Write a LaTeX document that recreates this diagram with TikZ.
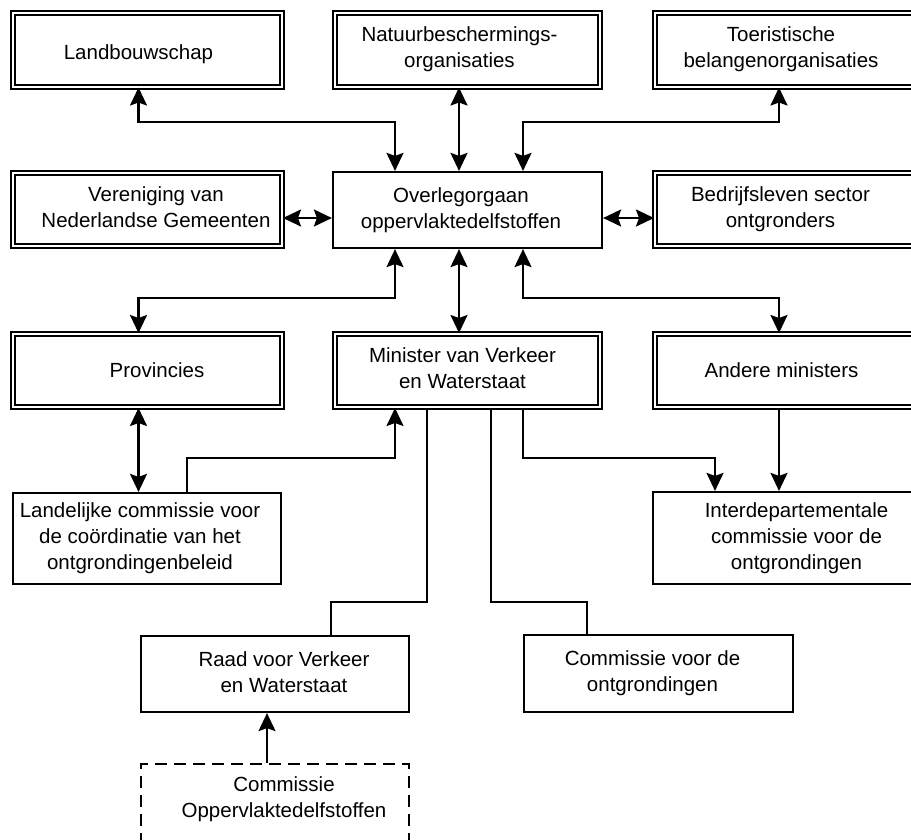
\documentclass[tikz,border=0pt]{standalone}
\usepackage{fontspec}
\setmainfont{Liberation Sans}
\usetikzlibrary{arrows.meta,calc}
\newcommand\offtxt[2]{\ifdim#1pt>0pt\hspace*{#1pt}\hspace*{#1pt}\fi\begin{tabular}{@{}c@{}}#2\end{tabular}\ifdim#1pt<0pt\hspace*{-#1pt}\hspace*{-#1pt}\fi}
\begin{document}
\begin{tikzpicture}[x=1pt,y=-1pt,
  txt/.style={font=\fontsize{20.5}{26}\selectfont, inner sep=0pt},
  sbox/.style={txt, draw, line width=2.2pt, rectangle},
  dbox/.style={txt, draw, line width=2pt, double, double distance=2pt, rectangle},
  dashbox/.style={txt, draw, line width=2.2pt, dash pattern=on 12pt off 7pt, rectangle},
  tip/.tip={Stealth[length=18pt,width=17pt,inset=3pt]},
  conn/.style={line width=2.2pt, line join=miter, -tip},
  biconn/.style={line width=2.2pt, line join=miter, tip-tip},
  plain/.style={line width=2.2pt, line join=miter}
]
\useasboundingbox (0,0) rectangle (911,839);
\fill[white] (0,0) rectangle (911,839);

% row 1
\node[dbox, minimum width=269pt, minimum height=73.5pt] (land) at (147.5,49.75) {\offtxt{-9}{\raisebox{-5pt}{Landbouwschap}}};
\node[dbox, minimum width=265pt, minimum height=73.5pt] (natuur) at (467.5,49.75) {\offtxt{-8}{Natuurbeschermings-\\organisaties}};
\node[dbox, minimum width=265pt, minimum height=73.5pt] (toer) at (787.5,49.75) {\offtxt{-6.5}{Toeristische\\belangenorganisaties}};
% row 2
\node[dbox, minimum width=269pt, minimum height=73pt] (veren) at (147.5,209.5) {\offtxt{8.5}{Vereniging van\\Nederlandse Gemeenten}};
\node[sbox, minimum width=269pt, minimum height=76pt] (overleg) at (467.5,210) {\offtxt{-6.5}{Overlegorgaan\\oppervlaktedelfstoffen}};
\node[dbox, minimum width=265pt, minimum height=73pt] (bedrijf) at (787.5,209.5) {\offtxt{-7}{Bedrijfsleven sector\\ontgronders}};
% row 3
\node[dbox, minimum width=269pt, minimum height=73pt] (prov) at (147.5,370.5) {\offtxt{9.5}{\raisebox{-2pt}{Provincies}}};
\node[dbox, minimum width=265pt, minimum height=73pt] (minister) at (467.5,370.5) {\offtxt{-5}{Minister van Verkeer\\en Waterstaat}};
\node[dbox, minimum width=265pt, minimum height=73pt] (andere) at (787.5,370.5) {\offtxt{-6}{\raisebox{-2pt}{Andere ministers}}};
% row 4
\node[sbox, minimum width=268pt, minimum height=91pt] (landelijk) at (147,538.5) {\offtxt{-7}{Landelijke commissie voor\\de coördinatie van het\\ontgrondingenbeleid}};
\node[sbox, minimum width=268pt, minimum height=92pt] (interdep) at (787,538) {\offtxt{9.5}{Interdepartementale\\commissie voor de\\ontgrondingen}};
% row 5
\node[sbox, minimum width=268pt, minimum height=76pt] (raad) at (275,674) {\offtxt{9}{Raad voor Verkeer\\en Waterstaat}};
\node[sbox, minimum width=269pt, minimum height=77pt] (comm) at (658.5,673.5) {\offtxt{-6}{Commissie voor de\\ontgrondingen}};
% dashed
\node[dashbox, minimum width=268pt, minimum height=136pt] (cop) at (275,832) {};
\node[txt] (coptxt) at (275,799) {\offtxt{9}{Commissie\\Oppervlaktedelfstoffen}};

% helper coordinates
\coordinate (xa) at (395,0);
\coordinate (xb) at (459,0);
\coordinate (xc) at (523,0);
\coordinate (xl) at (138.5,0);
\coordinate (xr) at (779,0);
\coordinate (xd) at (187,0);
\coordinate (xe) at (715,0);
\coordinate (xf) at (427,0);
\coordinate (xg) at (331,0);
\coordinate (xh) at (491,0);
\coordinate (xi) at (587,0);
\coordinate (xj) at (267,0);
\coordinate (ytop) at (0,122);
\coordinate (yside) at (0,218);
\coordinate (ymid) at (0,298);
\coordinate (ylow) at (0,458);
\coordinate (yraad) at (0,602);

% top connectors
\draw[biconn] (overleg.north -| xa) |- (xl |- ytop) -- (land.south -| xl);
\draw[biconn] (overleg.north -| xb) -- (natuur.south -| xb);
\draw[biconn] (overleg.north -| xc) |- (xr |- ytop) -- (toer.south -| xr);
% side connectors
\draw[biconn] (veren.east |- yside) -- (overleg.west |- yside);
\draw[biconn] (overleg.east |- yside) -- (bedrijf.west |- yside);
% bottom connectors
\draw[biconn] (overleg.south -| xa) |- (xl |- ymid) -- (prov.north -| xl);
\draw[biconn] (overleg.south -| xb) -- (minister.north -| xb);
\draw[biconn] (overleg.south -| xc) |- (xr |- ymid) -- (andere.north -| xr);
% lower
\draw[biconn] (prov.south -| xl) -- (landelijk.north -| xl);
\draw[conn] (landelijk.north -| xd) |- (xa |- ylow) -- (minister.south -| xa);
\draw[conn] (minister.south -| xc) |- (xe |- ylow) -- (interdep.north -| xe);
\draw[conn] (andere.south -| xr) -- (interdep.north -| xr);
\draw[plain] (minister.south -| xf) |- (xg |- yraad) -- (raad.north -| xg);
\draw[plain] (minister.south -| xh) |- (xi |- yraad) -- (comm.north -| xi);
\draw[conn] (cop.north -| xj) -- (raad.south -| xj);
\end{tikzpicture}
\end{document}
